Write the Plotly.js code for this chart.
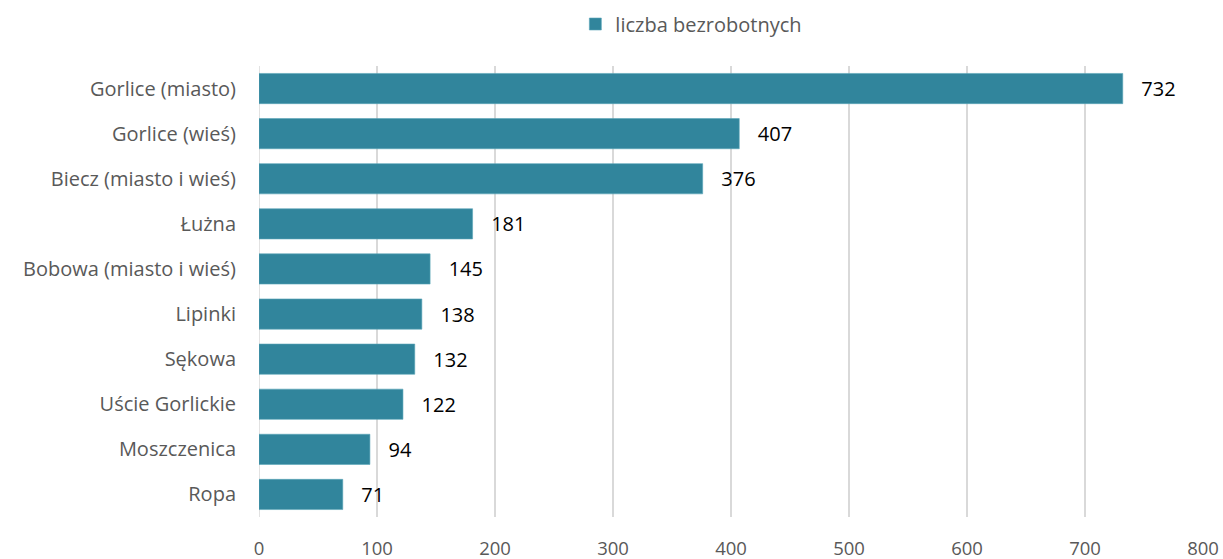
<!DOCTYPE html>
<html>
<head>
<meta charset="utf-8">
<script src="https://cdn.plot.ly/plotly-3.0.1.min.js"></script>
<style>html,body{margin:0;padding:0;background:#fff;}#chart{width:1223px;height:559px;}</style>
</head>
<body>
<div id="chart"></div>
<script>
const categories = ["Gorlice (miasto)", "Gorlice (wieś)", "Biecz (miasto i wieś)", "Łużna", "Bobowa (miasto i wieś)", "Lipinki", "Sękowa", "Uście Gorlickie", "Moszczenica", "Ropa"];
const values = [732, 407, 376, 181, 145, 138, 132, 122, 94, 71];
const seriesName = "liczba bezrobotnych";
const xTicks = [0, 100, 200, 300, 400, 500, 600, 700, 800];

const font = "Open Sans, Liberation Sans, Arial, sans-serif";
const trace = {
  type: "bar",
  orientation: "h",
  name: seriesName,
  y: categories,
  x: values,
  marker: {color: "#31859C", line: {color: "#5aa6b9", width: 0.6}},
  text: values.map(v => "   " + v),
  textposition: "outside",
  textfont: {family: font, size: 20, color: "#000000"},
  cliponaxis: false,
  hoverinfo: "skip"
};
const layout = {
  width: 1223, height: 559,
  margin: {l: 259, r: 20, t: 66, b: 42, pad: 0},
  paper_bgcolor: "#ffffff", plot_bgcolor: "#ffffff",
  font: {family: font, size: 18, color: "#595959"},
  bargap: 0.33,
  showlegend: true,
  legend: {orientation: "h", x: 0.458, xanchor: "center", xref: "paper",
           y: 1 - 24 / 559, yanchor: "middle", yref: "container",
           font: {family: font, size: 20, color: "#595959"}, itemwidth: 30},
  xaxis: {range: [0, 800], tickvals: xTicks, ticktext: xTicks.map(String),
          showgrid: true, gridcolor: "#d9d9d9", gridwidth: 1.5,
          zeroline: false, showline: false, ticks: "outside", ticklen: 15, tickcolor: "rgba(0,0,0,0)",
          tickfont: {family: font, size: 18.5, color: "#595959"}, fixedrange: true},
  yaxis: {type: "category", autorange: "reversed", showgrid: false, zeroline: false, showline: false,
          ticks: "outside", ticklen: 18, tickcolor: "rgba(0,0,0,0)",
          tickfont: {family: font, size: 20, color: "#595959"}, fixedrange: true},
  shapes: [{type: "line", xref: "x", yref: "paper", x0: 0, x1: 0, y0: 0, y1: 1, line: {color: "#d9d9d9", width: 1.5}, layer: "below"}]
};
Plotly.newPlot("chart", [trace], layout, {displayModeBar: false, staticPlot: true});
</script>
</body>
</html>
